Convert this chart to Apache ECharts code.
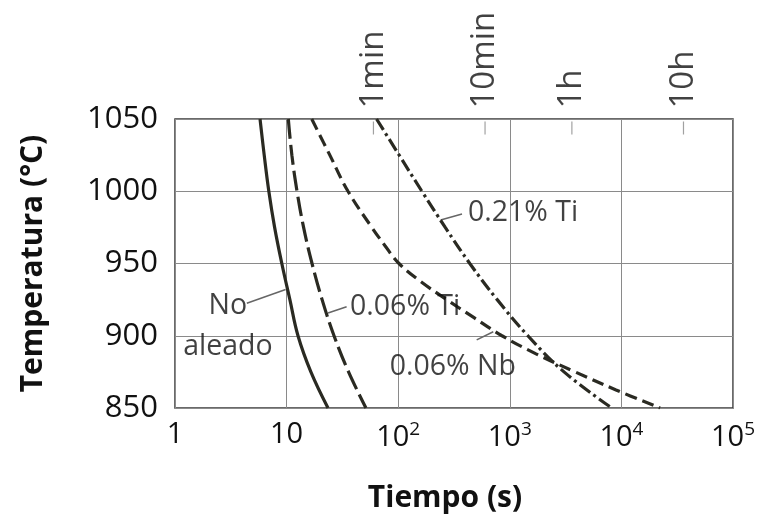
<!DOCTYPE html>
<html>
<head>
<meta charset="utf-8">
<script src="https://cdn.jsdelivr.net/npm/echarts@6/dist/echarts.min.js"></script>
<style>
html,body{margin:0;padding:0;background:#fff;}
#chart{width:764px;height:529px;}
</style>
</head>
<body>
<div id="chart"></div>
<script>
// ---- Data (time in seconds, temperature in °C) ----
const tempSteps = [1050, 1025, 1000, 975, 950, 925, 900, 875, 850];
const noAleadoS = [5.78, 6.30, 6.93, 7.81, 9.06, 10.7, 12.65, 16.5, 23.5];
const ti006S    = [10.36, 11.15, 12.4, 14.2, 16.9, 20.8, 26.6, 35.9, 51.4];
const ti021S    = [64, 102, 163, 264, 438, 771, 1452, 3060, 8200];

const nb006T = [1050, 1025, 1000, 975, 962.5, 950, 937.5, 925, 912.5, 900, 887.5, 875, 862.5, 850];
const nb006S = [16.8, 24.4, 35.5, 58.0, 75.9, 101.7, 159, 272, 478, 851, 1718, 3840, 8950, 22200];

const yTicks = [850, 900, 950, 1000, 1050];
const xTicks = [1, 10, 100, 1000, 10000, 100000];

const topTickValues = [60, 600, 3600, 36000];
const topTickLabels = ['1min', '10min', '1h', '10h'];

// annotation labels (data coordinates)
const annText = ['No\naleado', '0.06% Ti', '0.21% Ti', '0.06% Nb'];
const annS = [2.98, 37, 422, 84];
const annT = [906.7, 920.1, 985.0, 878.6];
// leader lines (data coordinates)
const leaderNo = [[4.4, 922.5], [9.8, 932.0]];
const leaderTi006 = [[23.5, 915.7], [34.5, 920.1]];
const leaderTi021 = [[240, 980.1], [373, 984.3]];
const leaderNb006 = [[505, 897.1], [711, 902.8]];

function pairs(s, t) { return s.map((v, i) => [v, t[i]]); }

const curveColor = '#2a2a22';
const font = 'Open Sans';
const textColor = '#111';

const chart = echarts.init(document.getElementById('chart'));

function curve(name, s, t, dash) {
  return {
    name: name, type: 'line', data: pairs(s, t), smooth: 0.4,
    showSymbol: false, symbol: 'none', clip: true,
    lineStyle: { color: curveColor, width: 3.2, type: dash, cap: 'butt' },
    z: 5
  };
}
function leader(pts) {
  return {
    type: 'line', data: pts, showSymbol: false, symbol: 'none',
    lineStyle: { color: '#666', width: 1.5 }, z: 4, silent: true
  };
}

const annData = annText.map((t, i) => ({
  value: [annS[i], annT[i]], name: t,
  label: i === 0 ? { align: 'center' } : {}
}));

chart.setOption({
  animation: false,
  backgroundColor: '#fff',
  grid: { left: 175, right: 31, top: 119, bottom: 121, show: true, borderColor: '#3a3a3a', borderWidth: 1.5, backgroundColor: 'transparent' },
  xAxis: {
    type: 'log', logBase: 10, min: 1, max: 100000,
    name: 'Tiempo (s)', nameLocation: 'middle', nameGap: 75,
    nameTextStyle: { fontFamily: font, fontWeight: 'bold', fontSize: 30, color: '#111', padding: [0, 18, 0, 0] },
    axisLine: { show: false }, axisTick: { show: false },
    splitLine: { show: true, lineStyle: { color: '#8a8a8a', width: 1 } },
    minorTick: { show: false },
    axisLabel: {
      margin: 12, color: textColor, fontFamily: font, fontSize: 29,
      formatter: function (v) {
        const e = Math.round(Math.log10(v));
        if (e === 0) return '1';
        if (e === 1) return '10';
        return '{b|10}{sup|' + e + '}';
      },
      rich: {
        b: { fontFamily: font, fontSize: 29, color: textColor },
        sup: { fontFamily: font, fontSize: 19, color: textColor, verticalAlign: 'top', padding: [0, 0, 16, 0] }
      }
    }
  },
  yAxis: {
    type: 'value', min: 850, max: 1050, interval: 50,
    name: 'Temperatura (°C)', nameLocation: 'middle', nameGap: 127, nameRotate: 90,
    nameTextStyle: { fontFamily: font, fontWeight: 'bold', fontSize: 30, color: '#111' },
    axisLine: { show: false }, axisTick: { show: false },
    splitLine: { show: true, lineStyle: { color: '#8a8a8a', width: 1 } },
    axisLabel: { margin: 17, color: textColor, fontFamily: font, fontSize: 31, padding: [6, 0, 0, 0], formatter: v => String(v) }
  },
  series: [
    curve('No aleado', noAleadoS, tempSteps, 'solid'),
    curve('0.06% Ti', ti006S, tempSteps, [20, 6]),
    curve('0.06% Nb', nb006S, nb006T, [12, 6]),
    curve('0.21% Ti', ti021S, tempSteps, [13, 4, 3, 4]),
    leader(leaderNo), leader(leaderTi006), leader(leaderTi021), leader(leaderNb006),
    {
      // top time-marker ticks with rotated labels
      type: 'scatter', silent: true, clip: false,
      data: topTickValues.map((v, i) => ({ value: [v, 1050], name: topTickLabels[i] })),
      symbol: 'rect', symbolSize: [1.2, 13], symbolOffset: [0, 9],
      itemStyle: { color: '#8a8a8a' },
      label: {
        show: true, position: 'top', distance: 13, rotate: 90,
        align: 'left', verticalAlign: 'middle',
        formatter: p => p.name, fontFamily: font, fontSize: 33, color: textColor
      },
      z: 3
    },
    {
      // curve annotations
      type: 'scatter', silent: true, clip: false, symbolSize: 0,
      data: annData,
      label: {
        show: true, position: [0, 0], formatter: p => p.name,
        fontFamily: font, fontSize: 28.5, color: textColor, lineHeight: 41,
        align: 'left', verticalAlign: 'middle'
      },
      z: 6
    }
  ]
});
</script>
</body>
</html>
